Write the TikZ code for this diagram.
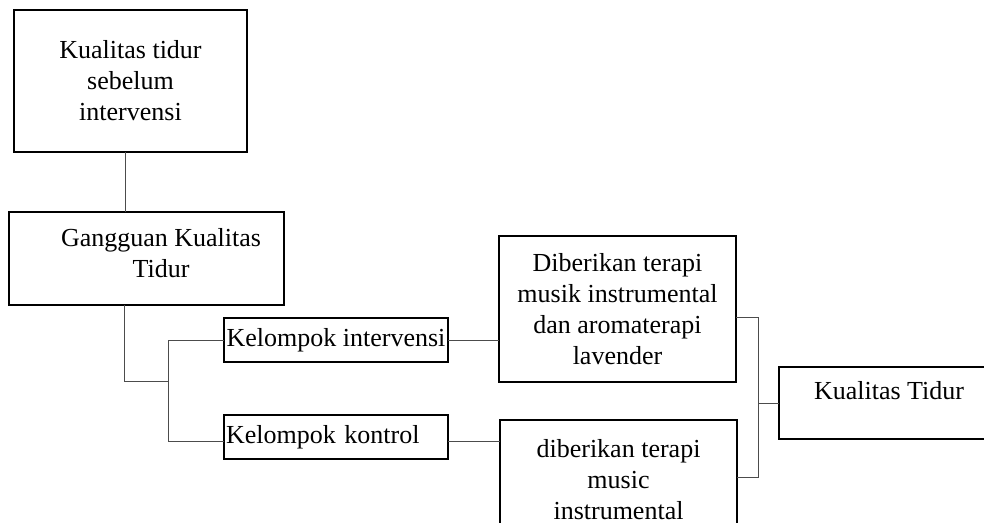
\documentclass[tikz,border=0pt]{standalone}
\usepackage{fontspec}
\setmainfont{Liberation Serif}
\usetikzlibrary{positioning}

\begin{document}
\begin{tikzpicture}[
  x=1pt, y=-1pt,
  box/.style={rectangle, draw=black, line width=1.4pt, inner sep=0pt, outer sep=0pt, align=center, font=\fontsize{26}{31}\selectfont},
  link/.style={line width=0.8pt, black!70},
  txt/.style={inner sep=0pt, align=center, font=\fontsize{26}{31}\selectfont}
]
  \useasboundingbox (0,0) rectangle (984,522);

  % Before intervention
  \node[box, minimum width=233pt, minimum height=142pt] (kb) at (130.5,81) {Kualitas tidur\\sebelum\\intervensi};
  \node[box, minimum width=275pt, minimum height=93pt] (gk) at (146.5,258.5) {};
  \node[txt] (gktext) at (161,253) {Gangguan Kualitas\\Tidur};

  % Groups
  \node[box, minimum width=224pt, minimum height=44pt] (ki) at (336,340) {Kelompok intervensi};
  \node[box, minimum width=224pt, minimum height=44pt, text width=220pt, align=left] (kk) at (336,437) {Kelompok kontrol};

  % Treatments
  \node[box, minimum width=237pt, minimum height=146pt] (tm) at (617.5,309) {Diberikan terapi\\musik instrumental\\dan aromaterapi\\lavender};
  \node[box, minimum width=237pt, minimum height=120pt] (tk) at (618.5,480) {diberikan terapi\\music\\instrumental};

  % Outcome
  \node[box, minimum width=220pt, minimum height=72pt] (kt) at (889,403) {};
  \node[txt] (kttext) at (889,391) {Kualitas Tidur};

  % Connectors
  \coordinate (split) at (168,381);
  \coordinate (merge) at (758,403);
  \draw[link] ([xshift=-5.5pt]kb.south) -- ([xshift=-5.5pt]kb.south |- gk.north);
  \draw[link] ([xshift=-22.5pt]gk.south) |- (split);
  \draw[link] (split) |- (ki.west);
  \draw[link] (split) |- ([yshift=-4pt]kk.west);
  \draw[link] (ki.east) -- (ki.east -| tm.west);
  \draw[link] ([yshift=-4pt]kk.east) -- ([yshift=-4pt]kk.east -| tk.west);
  \draw[link] ([yshift=-8pt]tm.east) -| (merge);
  \draw[link] ([yshift=3pt]tk.east) -| (merge);
  \draw[link] (merge) -- (kt.west);
\end{tikzpicture}
\end{document}
